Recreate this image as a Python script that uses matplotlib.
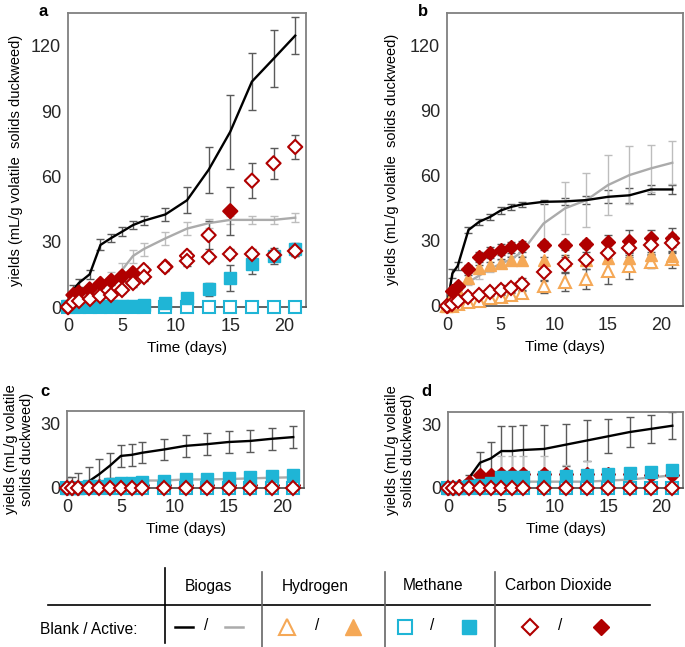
import matplotlib
matplotlib.use('Agg')
import matplotlib.pyplot as plt
from matplotlib.lines import Line2D
import numpy as np

plt.rcParams['font.family'] = ['Liberation Sans', 'DejaVu Sans']

# sampling days
days = [0, 0.5, 1, 2, 3, 4, 5, 6, 7, 9, 11, 13, 15, 17, 19, 21]
x_ticks = [0, 5, 10, 15, 20]

# panel a
a_bio_blank = [0, 8, 11, 15, 28.5, 31.7, 34.6, 37.6, 39.6, 42.5, 49, 63, 80.5, 103.5, 114, 124.6]
a_bio_blank_err = [0, 2, 2, 2, 2.5, 2, 2, 2, 2, 3, 6, 10.5, 17, 13, 13, 8.5]
a_bio_active = [0, 3, 5, 7, 9.5, 12, 17, 23.4, 26.6, 31.5, 36, 38.5, 40, 40, 40, 41]
a_bio_active_err = [0, 1, 1.5, 2, 3, 4, 3, 3, 3, 3, 3, 2, 2, 2, 2, 2]
a_ch4_blank = [0] * 16
a_ch4_active = [0.3, 0.3, 0.3, 0.3, 0.3, 0.3, 0.3, 0.5, 0.8, 1.7, 4, 8.1, 13.2, 19.7, 23.4, 26.6]
a_ch4_active_err = [0, 0, 0, 0, 0, 0, 0, 0, 0, 1, 2, 3, 6, 4.5, 3.5, 3]
a_co2_blank = [0, 2.2, 2.8, 3.5, 5, 5.5, 8, 10.9, 13.6, 18.5, 21, 23, 24.5, 24.5, 24, 25.5]
a_co2_blank_err = [0, 1, 1, 1, 1, 1, 1.5, 1.5, 1.5, 1.5, 2, 2, 2, 2, 2, 2]
a_co2_active = [0, 5.5, 6.6, 8.1, 10.6, 12, 14, 15.5, 17, 18.5, 23.5, 33, 44, 58, 66, 73.5]
a_co2_active_err = [0, 1, 1, 1.5, 2, 2, 2, 2, 2, 2, 2, 6.5, 11, 8, 7, 5.5]
a_co2_active_filled = [1, 1, 1, 1, 1, 1, 1, 1, 0, 0, 0, 0, 1, 0, 0, 0]

# panel b
b_bio_blank = [0, 15, 18.5, 35, 38.8, 41, 44, 45.7, 46.8, 48, 48.2, 48.8, 50.3, 51, 53.7, 53.7]
b_bio_blank_err = [0, 2, 2, 1.5, 1.5, 1.5, 1.5, 1.5, 1, 1, 1.5, 2, 3, 3.5, 2, 2]
b_bio_active = [0, 5, 8, 11, 14, 17, 19.5, 21.5, 25, 38, 45, 48.8, 55.7, 60.3, 63.4, 66]
b_bio_active_err = [0, 1, 1.5, 1.5, 1.5, 1.5, 1.5, 1.5, 2, 10, 12, 12.5, 14, 13.5, 11, 10]
b_h2_blank = [0, 0, 1, 2, 2.5, 3.5, 4, 5, 6, 9, 11, 12.5, 16, 18.5, 20.5, 21.5]
b_h2_blank_err = [0, 0.5, 0.5, 1, 1, 1, 1, 1, 1.5, 3, 4, 4.5, 6, 6, 3, 4]
b_h2_active = [0, 5, 7, 13, 17.5, 19, 20, 21, 21, 21, 21, 21, 22, 22, 23.5, 23]
b_h2_active_err = [0, 1, 1, 1.5, 1.5, 1.5, 1.5, 1.5, 1.5, 1.5, 1.5, 1.5, 1.5, 1.5, 1.5, 1.5]
b_co2_blank = [0, 1, 2.5, 4, 5, 6.5, 7.5, 8.5, 10, 15.5, 19.5, 21, 24.5, 26.5, 28, 29]
b_co2_blank_err = [0, 0.5, 1, 1, 1, 1.5, 2, 2, 3, 4, 4, 4, 4, 4, 4, 4]
b_co2_active = [0, 7, 9, 17, 22.6, 24.5, 26, 27, 27.5, 28, 28, 28.5, 29.5, 30, 31.5, 31.5]
b_co2_active_err = [0, 1.5, 1.5, 2, 2.5, 2.5, 2.5, 2.5, 2.5, 2, 2, 2, 3, 5, 3.5, 4.5]

# panel c
c_bio_blank = [0, 0, 0, 3, 6.5, 10.5, 15, 15.5, 16.5, 18, 19.7, 20.5, 21.5, 22, 23, 23.8]
c_bio_blank_err = [5, 5, 7, 7, 7, 6, 5, 5, 5, 5, 5, 5, 5, 5, 5, 5]
c_bio_active = [0, 0, 0.5, 1.5, 2.5, 3, 3.3, 3.5, 3.5, 3.5, 4, 4, 4.2, 4.5, 4.8, 5]
c_bio_active_err = [0, 0, 0.5, 1, 1, 1, 1, 1, 1, 1, 1, 1, 1, 1, 1, 1]
c_ch4_blank = [0] * 16
c_ch4_active = [0, 0, 0, 1, 1, 2, 2.5, 2.5, 3, 3.5, 4, 4, 4.5, 5, 5.5, 6]
c_ch4_active_err = [0] * 16
c_co2_blank = [0] * 16
c_co2_active = [0, 0, 0, 0.5, 1, 1.5, 1.5, 1.5, 1.5, 1.5, 1.5, 1.5, 1.5, 1.5, 1.5, 1.5]
c_co2_active_err = [0, 0, 0, 1, 1, 1, 1, 1, 1, 1, 1, 1, 1, 1, 1, 1]

# panel d
d_bio_blank = [0, 0, 1, 5, 12, 14, 17.5, 17.5, 18, 18.5, 20.5, 22.5, 24.5, 26.5, 28, 29.5]
d_bio_blank_err = [0, 0, 0, 1, 5, 8, 12, 12, 12, 11.5, 10, 9.5, 8, 7, 6.5, 6.5]
d_bio_active = [0, 0, 0, 1, 2, 2.5, 3, 3, 3, 3, 3, 3, 3.5, 4, 5, 6]
d_bio_active_err = [0, 0, 0, 1, 3, 4, 12, 12, 12, 12, 8, 10, 5, 5, 5, 5]
d_ch4_blank = [0] * 16
d_ch4_active = [0, 0, 0, 1, 1.5, 2.5, 5, 5, 5, 5, 5.5, 6, 6.5, 7, 7.5, 8.5]
d_ch4_active_err = [0, 0, 0, 0, 0, 0, 1, 1, 1, 1, 1, 1, 1.5, 2, 2, 2]
d_co2_blank = [0] * 16
d_co2_active = [0, 0, 1, 3, 6, 6, 6.5, 6.5, 6.5, 6.5, 6.5, 6.5, 6.5, 6.5, 6, 6]
d_co2_active_err = [0, 0, 0.5, 1, 1, 1, 2, 2, 2, 2, 2, 2, 2, 3, 3, 3]

C_RED = '#B00000'
C_CYAN = '#1FB5D6'
C_ORANGE = '#F5A856'
C_GRAY = '#ABABAB'
C_ERR_DARK = '#5A5A5A'
C_ERR_LIGHT = '#BDBDBD'
C_SPINE = '#808080'

W, H = 685, 647
fig = plt.figure(figsize=(W / 100, H / 100), dpi=100)


def box(l, t, r, b):
    return [l / W, 1 - b / H, (r - l) / W, (b - t) / H]


def err(ax, y, e, color):
    ax.errorbar(days, y, yerr=e, fmt='none', ecolor=color, elinewidth=1,
                capsize=3, capthick=1, zorder=2)


def panel(ax, ymax, yticks, bio, h2=None, ch4=None, co2=None, co2_fill=None):
    # biogas lines
    err(ax, bio[0], bio[1], C_ERR_DARK)
    err(ax, bio[2], bio[3], C_ERR_LIGHT)
    ax.plot(days, bio[2], color=C_GRAY, lw=1.7, zorder=3, clip_on=False)
    ax.plot(days, bio[0], color='black', lw=1.7, zorder=3, clip_on=False)
    if h2 is not None:
        err(ax, h2[0], h2[1], C_ERR_DARK)
        err(ax, h2[2], h2[3], C_ERR_DARK)
        ax.plot(days, h2[0], ls='none', marker='^', ms=9, mfc='white', mec=C_ORANGE,
                mew=1.5, zorder=4, clip_on=False)
        ax.plot(days, h2[2], ls='none', marker='^', ms=9, mfc=C_ORANGE, mec=C_ORANGE,
                zorder=4, clip_on=False)
    if co2 is not None:
        err(ax, co2[2], co2[3], C_ERR_DARK)
        if co2_fill is None:
            ax.plot(days, co2[2], ls='none', marker='D', ms=7, mfc=C_RED, mec=C_RED,
                    zorder=5, clip_on=False)
        else:
            fc = [C_RED if f else 'white' for f in co2_fill]
            ax.scatter(days, co2[2], marker='D', s=52, facecolors=fc, edgecolors=C_RED,
                       linewidths=1.5, zorder=7, clip_on=False)
    if ch4 is not None:
        err(ax, ch4[1], ch4[2], C_ERR_DARK)
        ax.plot(days, ch4[0], ls='none', marker='s', ms=8.5, mfc='white', mec=C_CYAN,
                mew=1.5, zorder=5, clip_on=False)
        ax.plot(days, ch4[1], ls='none', marker='s', ms=8.5, mfc=C_CYAN, mec=C_CYAN,
                zorder=6, clip_on=False)
    if co2 is not None:
        err(ax, co2[0], co2[1], C_ERR_DARK)
        ax.plot(days, co2[0], ls='none', marker='D', ms=7, mfc='white', mec=C_RED,
                mew=1.5, zorder=7, clip_on=False)

    ax.set_xlim(0, 22)
    ax.set_ylim(0, ymax)
    ax.set_xticks(x_ticks)
    ax.set_yticks(yticks)
    ax.tick_params(length=0, labelsize=13, colors='#262626')
    ax.tick_params(axis='x', pad=8)
    ax.tick_params(axis='y', pad=5)
    for s in ax.spines.values():
        s.set_color(C_SPINE)
        s.set_linewidth(1.3)
    ax.spines['bottom'].set_color('#555555')
    ax.set_xlabel('Time (days)', fontsize=11, labelpad=4)


ax_a = fig.add_axes(box(68, 13, 306, 307))
panel(ax_a, 135, [0, 30, 60, 90, 120],
      (a_bio_blank, a_bio_blank_err, a_bio_active, a_bio_active_err),
      ch4=(a_ch4_blank, a_ch4_active, a_ch4_active_err),
      co2=(a_co2_blank, a_co2_blank_err, a_co2_active, a_co2_active_err),
      co2_fill=a_co2_active_filled)
ax_a.set_ylabel('yields (mL/g volatile  solids duckweed)', fontsize=10.5, labelpad=6)

ax_b = fig.add_axes(box(447, 13, 683, 306))
panel(ax_b, 135, [0, 30, 60, 90, 120],
      (b_bio_blank, b_bio_blank_err, b_bio_active, b_bio_active_err),
      h2=(b_h2_blank, b_h2_blank_err, b_h2_active, b_h2_active_err),
      co2=(b_co2_blank, b_co2_blank_err, b_co2_active, b_co2_active_err))
ax_b.set_ylabel('yields (mL/g volatile  solids duckweed)', fontsize=10.5, labelpad=8)

ax_c = fig.add_axes(box(67, 411, 304, 488))
panel(ax_c, 36, [0, 30],
      (c_bio_blank, c_bio_blank_err, c_bio_active, c_bio_active_err),
      ch4=(c_ch4_blank, c_ch4_active, c_ch4_active_err),
      co2=(c_co2_blank, [0] * 16, c_co2_active, c_co2_active_err))
ax_c.set_ylabel('yields (mL/g volatile\nsolids duckweed)', fontsize=10.5, labelpad=4)

ax_d = fig.add_axes(box(448, 412, 683, 488))
panel(ax_d, 36, [0, 30],
      (d_bio_blank, d_bio_blank_err, d_bio_active, d_bio_active_err),
      ch4=(d_ch4_blank, d_ch4_active, d_ch4_active_err),
      co2=(d_co2_blank, [0] * 16, d_co2_active, d_co2_active_err))
ax_d.set_ylabel('yields (mL/g volatile\nsolids duckweed)', fontsize=10.5, labelpad=4)

# panel letters
for lab, px, py in [('a', 43, 12), ('b', 423, 12), ('c', 45, 392), ('d', 426, 392)]:
    fig.text(px / W, 1 - py / H, lab, fontsize=12, fontweight='bold', ha='center', va='center')

# legend table
def fline(x0, y0, x1, y1, color='black', lw=1.2):
    fig.add_artist(Line2D([x0 / W, x1 / W], [1 - y0 / H, 1 - y1 / H], color=color, lw=lw))


fline(48, 605, 650, 605)
fline(165, 568, 165, 643)
for vx in [262, 385, 495]:
    fline(vx, 572, vx, 647, color='#666666')

headers = ['Biogas', 'Hydrogen', 'Methane', 'Carbon Dioxide']
header_x = [208, 315, 433, 558]
for h, hx in zip(headers, header_x):
    fig.text(hx / W, 1 - 586 / H, h, fontsize=11.2, ha='center', va='center')

fig.text(138 / W, 1 - 630 / H, 'Blank / Active:', fontsize=11.2, ha='right', va='center')
ry = 1 - 627 / H
fline(175, 627, 193, 627, color='black', lw=1.8)
fline(225, 627, 243, 627, color=C_GRAY, lw=1.8)
for sx in [206, 317, 432, 560]:
    fig.text(sx / W, 1 - 626 / H, '/', fontsize=11.2, ha='center', va='center')
fig.add_artist(Line2D([287 / W], [ry], marker='^', ms=11, mfc='white', mec=C_ORANGE, mew=1.5, ls='none'))
fig.add_artist(Line2D([353 / W], [ry], marker='^', ms=11, mfc=C_ORANGE, mec=C_ORANGE, ls='none'))
fig.add_artist(Line2D([405 / W], [ry], marker='s', ms=10, mfc='white', mec=C_CYAN, mew=1.5, ls='none'))
fig.add_artist(Line2D([469 / W], [ry], marker='s', ms=10, mfc=C_CYAN, mec=C_CYAN, ls='none'))
fig.add_artist(Line2D([530 / W], [ry], marker='D', ms=8, mfc='white', mec=C_RED, mew=1.5, ls='none'))
fig.add_artist(Line2D([601 / W], [ry], marker='D', ms=8, mfc=C_RED, mec=C_RED, ls='none'))

fig.savefig('out.png', dpi=100)
